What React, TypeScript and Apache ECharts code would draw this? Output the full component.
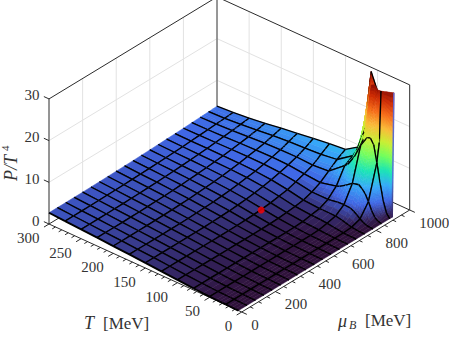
import React, { useEffect, useRef } from "react";
import * as echarts from "echarts";

// Grid of the surface: baryon chemical potential and temperature in MeV
const muGrid = [0, 50, 100, 150, 200, 250, 300, 350, 400, 450, 500, 550, 600, 650, 700, 750, 800, 850, 900, 915, 925, 950, 975, 1000];
const tGrid = [5, 10, 15, 20, 25, 30, 35, 40, 50, 60, 70, 75, 100, 125, 150, 175, 200, 225, 250, 275, 300];
const meshMu = [0, 50, 100, 150, 200, 250, 300, 350, 400, 450, 500, 550, 600, 650, 700, 750, 800, 850, 900, 950, 1000];
const meshT = [25, 50, 75, 100, 125, 150, 175, 200, 225, 250, 275];

// P/T^4 along mu, one list per temperature (null: no surface in the picture)
const n = null;
const pT5 = [0, 0, 0, 0, 0, 0, 0, 0, 0, 0, 0, 0, 0, 0, 0, 0, 0, 0, 0, 0, 29.6, n, n, n];
const pT10 = [0, 0, 0, 0, 0, 0, 0, 0, 0, 0, 0, 0, 0, 0, 0, 0, 0.02, 0.25, 1, 2.5, 29.3, n, n, n];
const pT15 = [0.01, 0.01, 0.01, 0.01, 0.01, 0.01, 0.01, 0.01, 0.01, 0.01, 0.01, 0.01, 0.01, 0, 0, 0.02, 0.15, 0.8, 3.5, 6.5, 29.1, n, n, n];
const pT20 = [0.03, 0.03, 0.03, 0.03, 0.03, 0.03, 0.03, 0.03, 0.02, 0.02, 0.02, 0.02, 0.02, 0.01, 0.04, 0.11, 0.5, 2.1, 7.5, 11, 28.8, n, n, n];
const pT25 = [0.05, 0.05, 0.05, 0.05, 0.05, 0.05, 0.05, 0.04, 0.04, 0.04, 0.03, 0.03, 0.03, 0.03, 0.08, 0.21, 0.96, 3.9, 12, 16.5, 28.6, n, n, n];
const pT30 = [0.08, 0.08, 0.08, 0.08, 0.08, 0.07, 0.07, 0.07, 0.06, 0.06, 0.06, 0.05, 0.05, 0.07, 0.18, 0.43, 1.62, 5.41, 16, 21, 28.5, n, n, n];
const pT35 = [0.1, 0.1, 0.1, 0.1, 0.09, 0.09, 0.09, 0.08, 0.08, 0.08, 0.07, 0.06, 0.08, 0.12, 0.29, 0.63, 2.12, 6.31, 17.2, 21.5, 29.4, n, n, n];
const pT40 = [0.12, 0.12, 0.12, 0.12, 0.11, 0.11, 0.11, 0.1, 0.1, 0.09, 0.08, 0.09, 0.1, 0.16, 0.4, 0.84, 2.53, 6.91, 17, 22, 29, n, n, n];
const pT50 = [0.18, 0.18, 0.18, 0.17, 0.17, 0.17, 0.16, 0.15, 0.16, 0.15, 0.15, 0.15, 0.16, 0.26, 0.62, 1.15, 2.64, 6.52, 14.5, 15.5, 17, 19.5, 22.5, 25];
const pT60 = [0.25, 0.25, 0.25, 0.24, 0.24, 0.23, 0.23, 0.22, 0.21, 0.21, 0.2, 0.2, 0.22, 0.36, 0.74, 1.17, 2.55, 5.42, 11, 11.5, 12.6, 15, 21, 29];
const pT70 = [0.35, 0.35, 0.35, 0.34, 0.34, 0.33, 0.32, 0.32, 0.3, 0.3, 0.29, 0.29, 0.32, 0.44, 0.82, 1.19, 2.26, 4.43, 8.5, 8.8, 9.2, 10.5, 12, 13.5];
const pT75 = [0.4, 0.4, 0.4, 0.39, 0.39, 0.38, 0.37, 0.36, 0.35, 0.35, 0.34, 0.34, 0.37, 0.49, 0.84, 1.17, 2.15, 4.1, 7.8, 8.1, 8.4, 9, 9.5, 10];
const pT100 = [0.66, 0.66, 0.66, 0.65, 0.64, 0.62, 0.62, 0.61, 0.61, 0.6, 0.62, 0.65, 0.74, 0.91, 1.16, 1.46, 2.18, 3.2, 4.75, 5.2, 5.5, 6.3, 6.9, 7.5];
const pT125 = [0.96, 0.96, 0.95, 0.94, 0.94, 0.92, 0.91, 0.91, 0.92, 0.95, 1, 1.1, 1.26, 1.48, 1.83, 2.2, 2.84, 3.55, 4.4, 4.75, 5, 5.75, 6.4, 7.1];
const pT150 = [1.25, 1.25, 1.24, 1.23, 1.23, 1.22, 1.23, 1.25, 1.31, 1.37, 1.46, 1.62, 1.81, 2.09, 2.43, 2.8, 3.35, 3.93, 4.6, 4.83, 5, 5.5, 6.05, 6.6];
const pT175 = [1.5, 1.5, 1.49, 1.49, 1.5, 1.51, 1.53, 1.56, 1.64, 1.73, 1.85, 2.02, 2.21, 2.47, 2.8, 3.11, 3.57, 4.04, 4.57, 4.76, 4.92, 5.33, 5.72, 6.05];
const pT200 = [1.75, 1.75, 1.75, 1.75, 1.76, 1.79, 1.82, 1.87, 1.95, 2.04, 2.16, 2.32, 2.49, 2.71, 2.98, 3.25, 3.63, 3.98, 4.4, 4.55, 4.67, 4.97, 5.25, 5.55];
const pT225 = [2, 2, 2, 2.01, 2.03, 2.05, 2.1, 2.16, 2.22, 2.31, 2.42, 2.55, 2.69, 2.87, 3.07, 3.29, 3.58, 3.85, 4.16, 4.27, 4.35, 4.55, 4.75, 4.95];
const pT250 = [2.23, 2.23, 2.23, 2.25, 2.27, 2.3, 2.34, 2.4, 2.46, 2.54, 2.63, 2.73, 2.85, 2.98, 3.11, 3.29, 3.5, 3.7, 3.91, 4, 4.03, 4.17, 4.31, 4.43];
const pT275 = [2.45, 2.45, 2.46, 2.48, 2.5, 2.53, 2.57, 2.62, 2.67, 2.73, 2.8, 2.87, 2.98, 3.07, 3.17, 3.3, 3.44, 3.57, 3.71, 3.75, 3.79, 3.87, 3.95, 4.05];
const pT300 = [2.7, 2.71, 2.71, 2.72, 2.74, 2.77, 2.8, 2.84, 2.88, 2.92, 2.97, 3.03, 3.1, 3.17, 3.24, 3.32, 3.4, 3.5, 3.59, 3.62, 3.64, 3.69, 3.75, 3.8];
const pTable = [pT5, pT10, pT15, pT20, pT25, pT30, pT35, pT40, pT50, pT60, pT70, pT75, pT100, pT125, pT150, pT175, pT200, pT225, pT250, pT275, pT300];

const criticalPoint = [590, 124, 1.3];

const tTicks = [0, 50, 100, 150, 200, 250, 300];
const muTicks = [0, 200, 400, 600, 800, 1000];
const zTicks = [0, 10, 20, 30];
const turbo = ["#30123b", "#4066e4", "#36aaf9", "#1ae4b6", "#72fe5e", "#c8ef34", "#faba39", "#f66b19", "#cb2a04", "#7a0403"];

const T_MAX = 300;
const MU_MAX = 1000;
const Z_MAX = 30;

// Orthographic view of the box
const project = (mu: number, t: number, p: number) => [
  241.7 + 0.168 * mu - 0.6423 * t,
  312 - 0.102 * mu - 0.2933 * t - 4.17 * p,
];

const hexRgb = (h: string) => [1, 3, 5].map((k) => parseInt(h.slice(k, k + 2), 16));
const turboRgb = turbo.map(hexRgb);
const colorOf = (p: number) => {
  const f = Math.max(0, Math.min(1, p / Z_MAX)) * (turbo.length - 1);
  const k = Math.min(turbo.length - 2, Math.floor(f));
  const u = f - k;
  const c = turboRgb[k].map((v, q) => Math.round(v + (turboRgb[k + 1][q] - v) * u));
  return `rgb(${c[0]},${c[1]},${c[2]})`;
};

type Seg = [number, number, number, number, number];
const segments: Seg[] = [];
const addSeg = (a: number[], b: number[], kind: number) => segments.push([a[0], a[1], b[0], b[1], kind]);
const segStyles = [
  { stroke: "#e2e2e2", lineWidth: 1 },
  { stroke: "#2b2b2b", lineWidth: 1 },
  { stroke: "#7d7d7d", lineWidth: 1.6 },
];
// back walls
zTicks.slice(1, 3).forEach((z) => {
  addSeg(project(0, T_MAX, z), project(MU_MAX, T_MAX, z), 0);
  addSeg(project(MU_MAX, T_MAX, z), project(MU_MAX, 0, z), 0);
});
muTicks.slice(1, 5).forEach((m) => addSeg(project(m, T_MAX, 0), project(m, T_MAX, Z_MAX), 0));
tTicks.slice(1, 6).forEach((t) => addSeg(project(MU_MAX, t, 0), project(MU_MAX, t, Z_MAX), 0));
addSeg(project(MU_MAX, T_MAX, 0), project(MU_MAX, T_MAX, Z_MAX), 2);
// box edges
addSeg(project(0, T_MAX, 0), project(0, T_MAX, Z_MAX), 1);
addSeg(project(MU_MAX, 0, 0), project(MU_MAX, 0, Z_MAX), 1);
addSeg(project(0, T_MAX, Z_MAX), project(MU_MAX, T_MAX, Z_MAX), 1);
addSeg(project(MU_MAX, T_MAX, Z_MAX), project(MU_MAX, 0, Z_MAX), 1);
addSeg(project(0, T_MAX, 0), project(MU_MAX, T_MAX, 0), 1);
addSeg(project(MU_MAX, T_MAX, 0), project(MU_MAX, 0, 0), 1);
addSeg(project(0, 0, 0), project(0, T_MAX, 0), 1);
addSeg(project(0, 0, 0), project(MU_MAX, 0, 0), 1);
// ticks
for (let t = 0; t <= T_MAX; t += 10) {
  const a = project(0, t, 0);
  const len = t % 50 === 0 ? 30 : 19;
  addSeg(a, project(-len, t, 0), 1);
}
for (let m = 0; m <= MU_MAX; m += 50) {
  const a = project(m, 0, 0);
  const len = m % 200 === 0 ? 8 : 5;
  addSeg(a, project(m, -len, 0), 1);
}
zTicks.forEach((z) => addSeg(project(0, T_MAX, z), project(0, T_MAX + 8, z), 1));

// Painter's order: farthest cell first
const cells: number[][] = [];
for (let i = muGrid.length - 2; i >= 0; i--) {
  for (let j = tGrid.length - 2; j >= 0; j--) {
    const v = [pTable[j][i], pTable[j][i + 1], pTable[j + 1][i], pTable[j + 1][i + 1]];
    if (v.every((x) => x !== null)) cells.push([i, j]);
  }
}

const MESH_W = 1.3;
const renderCell = (params: any, api: any) => {
  const [i, j] = cells[params.dataIndex];
  const m0 = muGrid[i], m1 = muGrid[i + 1], t0 = tGrid[j], t1 = tGrid[j + 1];
  const p00 = pTable[j][i] as number, p10 = pTable[j][i + 1] as number;
  const p01 = pTable[j + 1][i] as number, p11 = pTable[j + 1][i + 1] as number;
  const rangeMu = Math.max(Math.abs(p10 - p00), Math.abs(p11 - p01));
  const rangeT = Math.max(Math.abs(p01 - p00), Math.abs(p11 - p10));
  const nu = Math.min(24, Math.max(1, Math.ceil(rangeMu / 0.8)));
  const nv = Math.min(24, Math.max(1, Math.ceil(rangeT / 0.8)));
  const bil = (u: number, v: number) => p00 * (1 - u) * (1 - v) + p10 * u * (1 - v) + p01 * (1 - u) * v + p11 * u * v;
  const at = (u: number, v: number) => api.coord(project(m0 + (m1 - m0) * u, t0 + (t1 - t0) * v, bil(u, v)));
  const children: any[] = [];
  for (let a = nu - 1; a >= 0; a--) {
    for (let b = nv - 1; b >= 0; b--) {
      const u0 = a / nu, u1 = (a + 1) / nu, v0 = b / nv, v1 = (b + 1) / nv;
      const c = colorOf(bil((u0 + u1) / 2, (v0 + v1) / 2));
      children.push({
        type: "polygon",
        shape: { points: [at(u0, v0), at(u1, v0), at(u1, v1), at(u0, v1)] },
        style: { fill: c, stroke: c, lineWidth: 0.5 },
      });
    }
  }
  const edge = (pts: number[][], w: number) =>
    children.push({ type: "polyline", shape: { points: pts }, style: { fill: "none", stroke: "#000", lineWidth: w } });
  if (meshT.includes(t1)) edge([at(0, 1), at(1, 1)], MESH_W);
  if (meshMu.includes(m1)) edge([at(1, 0), at(1, 1)], MESH_W);
  if (meshT.includes(t0)) edge([at(0, 0), at(1, 0)], MESH_W);
  if (meshMu.includes(m0)) edge([at(0, 0), at(0, 1)], m0 === 0 ? 1.9 : MESH_W);
  return { type: "group", children };
};

type Label = { s: string; x: number; y: number; align: string; size: number; italic?: boolean; rot?: number };
const FONT = "'Liberation Serif', serif";
const labels: Label[] = [];
tTicks.forEach((t) => {
  const a = project(0, t, 0);
  labels.push({ s: String(t), x: a[0] - 9.5, y: a[1] + 14, align: "right", size: 15 });
});
muTicks.forEach((m) => {
  const a = project(m, 0, 0);
  labels.push({ s: String(m), x: a[0] + 9.5, y: a[1] + 12.7, align: "left", size: 15 });
});
zTicks.forEach((z) => {
  const a = project(0, T_MAX, z);
  labels.push({ s: String(z), x: 39.5, y: a[1] - 3.5, align: "right", size: 15 });
});
labels.push({ s: "T", x: 84, y: 323, align: "left", size: 18, italic: true });
labels.push({ s: "[MeV]", x: 103, y: 323, align: "left", size: 17 });
labels.push({ s: "μ", x: 338, y: 321, align: "left", size: 18, italic: true });
labels.push({ s: "B", x: 349, y: 325, align: "left", size: 12, italic: true });
labels.push({ s: "[MeV]", x: 365, y: 320, align: "left", size: 17 });
labels.push({ s: "P/T", x: 11, y: 181, align: "left", size: 18, italic: true, rot: Math.PI / 2 });
labels.push({ s: "4", x: 5, y: 151, align: "left", size: 11, rot: Math.PI / 2 });

export default function App() {
  const ref = useRef<HTMLDivElement>(null);
  useEffect(() => {
    const chart = echarts.init(ref.current!, undefined, { renderer: "svg" });
    const dot = project(criticalPoint[0], criticalPoint[1], criticalPoint[2]);
    const wallA = project(915, 5, 0);
    const wallB = project(925, 5, 29.6);
    chart.setOption({
      animation: false,
      backgroundColor: "#fff",
      grid: { left: 0, right: 0, top: 0, bottom: 0 },
      xAxis: { type: "value", min: 0, max: 449, show: false },
      yAxis: { type: "value", min: 0, max: 345, inverse: true, show: false },
      series: [
        {
          type: "custom",
          z: 1,
          silent: true,
          clip: false,
          data: segments,
          renderItem: (_p: any, api: any) => {
            const a = api.coord([api.value(0), api.value(1)]);
            const b = api.coord([api.value(2), api.value(3)]);
            return {
              type: "line",
              shape: { x1: a[0], y1: a[1], x2: b[0], y2: b[1] },
              style: segStyles[api.value(4)],
            };
          },
        },
        { type: "custom", z: 2, silent: true, clip: false, data: cells, renderItem: renderCell },
        {
          type: "custom",
          z: 3,
          silent: true,
          clip: false,
          data: [[wallA[0], wallA[1], wallB[0], wallB[1]]],
          renderItem: (_p: any, api: any) => {
            const a = api.coord([api.value(0), api.value(1)]);
            const b = api.coord([api.value(2), api.value(3)]);
            return {
              type: "line",
              shape: { x1: a[0], y1: a[1], x2: b[0], y2: b[1] },
              style: {
                lineWidth: 1.5,
                stroke: new echarts.graphic.LinearGradient(0, 0, 0, 1, [
                  { offset: 0, color: "#6a62c4" },
                  { offset: 0.7, color: "#4f78d8" },
                  { offset: 1, color: "#35205c" },
                ]),
              },
            };
          },
        },
        {
          type: "scatter",
          z: 4,
          silent: true,
          symbolSize: 7,
          itemStyle: { color: "#ff0000" },
          data: [dot],
        },
        {
          type: "custom",
          z: 5,
          silent: true,
          clip: false,
          data: labels.map((l) => [l.x, l.y]),
          renderItem: (p: any, api: any) => {
            const l = labels[p.dataIndex];
            const c = api.coord([l.x, l.y]);
            return {
              type: "text",
              x: c[0],
              y: c[1],
              rotation: l.rot || 0,
              style: {
                text: l.s,
                fill: "#333",
                font: `${l.italic ? "italic " : ""}${l.size}px ${FONT}`,
                textAlign: l.align,
                textVerticalAlign: "middle",
              },
            };
          },
        },
      ],
    });
    return () => chart.dispose();
  }, []);
  return <div ref={ref} style={{ position: "absolute", left: 0, top: 0, width: 449, height: 345 }} />;
}
